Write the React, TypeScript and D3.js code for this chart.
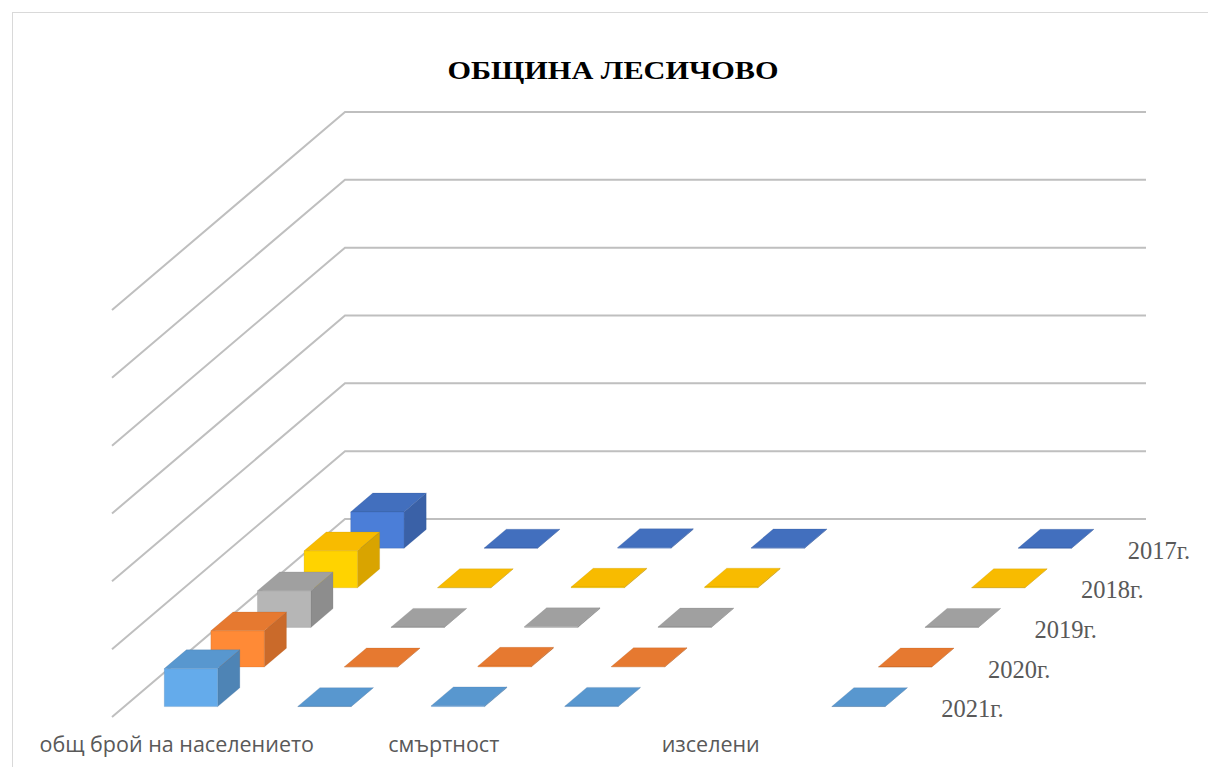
import React from "react";
import * as d3 from "d3";

const title = "ОБЩИНА ЛЕСИЧОВО";
const categories = [
  "общ брой на населението",
  "раждаемост",
  "смъртност",
  "заселени",
  "изселени",
  "бракове",
];
const years = ["2017г.", "2018г.", "2019г.", "2020г.", "2021г."];
const values2017: (number | null)[] = [5350, 30, 110, 60, null, 20];
const values2018: (number | null)[] = [5450, 28, 105, 120, null, 25];
const values2019: (number | null)[] = [5400, 25, 115, 70, null, 20];
const values2020: (number | null)[] = [5330, 22, 125, 65, null, 18];
const values2021: (number | null)[] = [5600, 24, 130, 60, null, 15];
const seriesValues = [values2017, values2018, values2019, values2020, values2021];
const seriesColors = ["#4472C4", "#FFC000", "#A5A5A5", "#ED7D31", "#5B9BD5"];
const valueTicks = [0, 10000, 20000, 30000, 40000, 50000, 60000];

const W = 1208;
const H = 767;
// floor geometry (oblique projection)
const ox = 112; // front-left floor corner
const oy = 717;
const floorW = 801;
const depthDX = 233;
const depthDY = 198;
const wallH = 407;

export default function App() {
  const xScale = d3
    .scaleBand<string>()
    .domain(categories)
    .range([0, floorW])
    .paddingInner(0.6)
    .paddingOuter(0.3);
  const dScale = d3
    .scaleBand<string>()
    .domain([...years].reverse())
    .range([0, 1])
    .paddingInner(0.525)
    .paddingOuter(0.2625);
  const yScale = d3.scaleLinear().domain([0, 60000]).range([0, wallH]);

  const P = (x: number, d: number, h: number): [number, number] => [
    ox + x + depthDX * d,
    oy - depthDY * d - h,
  ];
  const poly = (pts: [number, number][]) => pts.map((p) => p.join(",")).join(" ");

  const bars: React.ReactNode[] = [];
  years.forEach((yr, si) => {
    const base = d3.color(seriesColors[si])!;
    const front = base.brighter(0.27).formatHex();
    const top = base.darker(0.08).formatHex();
    const side = base.darker(0.45).formatHex();
    const edge = base.darker(0.9).formatHex();
    seriesValues[si].forEach((v, ci) => {
      if (v === null || v === undefined) return;
      const x0 = xScale(categories[ci])!;
      const x1 = x0 + xScale.bandwidth();
      const d0 = dScale(yr)!;
      const d1 = d0 + dScale.bandwidth();
      const h = yScale(v);
      bars.push(
        <g key={`${si}-${ci}`} strokeWidth={0.6} strokeOpacity={0.35} stroke={edge}>
          <polygon points={poly([P(x1, d0, 0), P(x1, d1, 0), P(x1, d1, h), P(x1, d0, h)])} fill={side} />
          <polygon points={poly([P(x0, d0, h), P(x1, d0, h), P(x1, d1, h), P(x0, d1, h)])} fill={top} />
          <polygon points={poly([P(x0, d0, 0), P(x1, d0, 0), P(x1, d0, h), P(x0, d0, h)])} fill={front} />
        </g>
      );
    });
  });

  return (
    <svg
      width={W}
      height={H}
      style={{ position: "absolute", left: 0, top: 0, background: "#fff" }}
    >
      <rect x={12.5} y={12.5} width={1260} height={820} fill="#fff" stroke="#D9D9D9" strokeWidth={1} />
      <text
        x={613}
        y={79}
        textAnchor="middle"
        fontFamily="'Liberation Serif', 'Times New Roman', serif"
        fontWeight="bold"
        fontSize={25}
        textLength={331}
        lengthAdjust="spacingAndGlyphs"
        fill="#000"
      >
        {title}
      </text>
      <g fill="none" stroke="#BFBFBF" strokeWidth={2}>
        {valueTicks.map((t) => {
          const h = yScale(t);
          const a = P(0, 0, h);
          const b = P(0, 1, h);
          const c = P(floorW, 1, h);
          return <polyline key={t} points={poly([a, b, c])} />;
        })}
      </g>
      {bars}
      <g fontFamily="'Open Sans', 'Noto Sans', sans-serif" fontSize={21.5} fill="#595959">
        {categories.map((c, i) =>
          i % 2 === 0 ? (
            <text key={c} x={ox + xScale(c)! + xScale.bandwidth() / 2 - 2} y={752} textAnchor="middle">
              {c}
            </text>
          ) : null
        )}
      </g>
      <g fontFamily="'Liberation Serif', 'Times New Roman', serif" fontSize={24.5} fill="#595959">
        {years.map((yr) => {
          const dc = dScale(yr)! + dScale.bandwidth() / 2;
          const [px, py] = P(floorW, dc, 0);
          return (
            <text key={yr} x={px + 5} y={py + 20}>
              {yr}
            </text>
          );
        })}
      </g>
    </svg>
  );
}
